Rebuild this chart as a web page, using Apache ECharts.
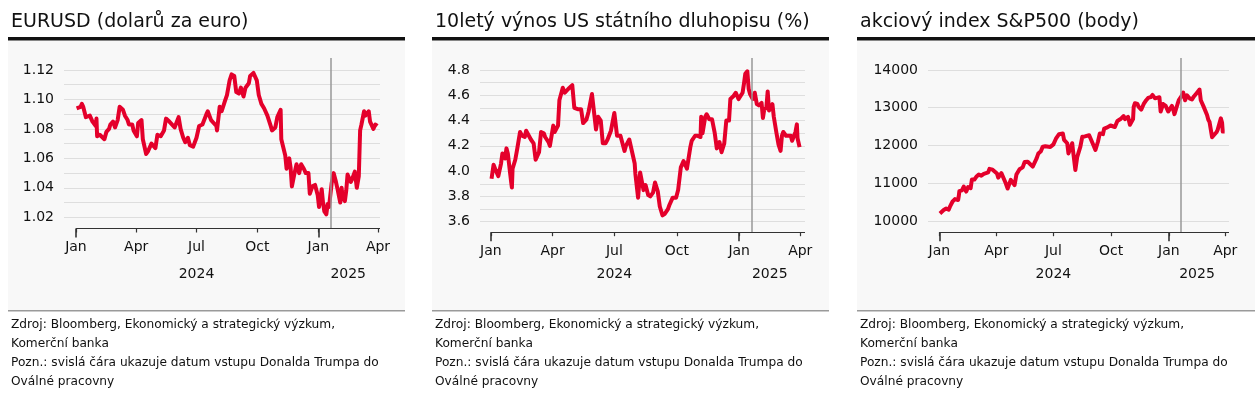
<!DOCTYPE html>
<html><head><meta charset="utf-8">
<script src="https://cdn.jsdelivr.net/npm/echarts@6/dist/echarts.min.js"></script>
<style>html,body{margin:0;padding:0;background:#fff}#c{width:1259px;height:395px}</style>
</head><body><div id="c"></div>
<script>
// ---------- DATA ----------
const dates = [
 '2024-01-02','2024-01-05','2024-01-08','2024-01-10','2024-01-12','2024-01-16','2024-01-18','2024-01-22','2024-01-24','2024-01-26','2024-01-31',
 '2024-02-01','2024-02-02','2024-02-06','2024-02-09','2024-02-13','2024-02-16','2024-02-20','2024-02-22','2024-02-26','2024-02-29',
 '2024-03-04','2024-03-07','2024-03-08','2024-03-12','2024-03-15','2024-03-19','2024-03-21','2024-03-26','2024-03-28',
 '2024-04-02','2024-04-04','2024-04-09','2024-04-11','2024-04-16','2024-04-19','2024-04-24','2024-04-30',
 '2024-05-03','2024-05-08','2024-05-13','2024-05-16','2024-05-21','2024-05-24','2024-05-29',
 '2024-06-04','2024-06-07','2024-06-11','2024-06-14','2024-06-18','2024-06-21','2024-06-26',
 '2024-07-01','2024-07-05','2024-07-10','2024-07-16','2024-07-18','2024-07-23','2024-07-25','2024-07-31',
 '2024-08-01','2024-08-05','2024-08-08','2024-08-13','2024-08-16','2024-08-20','2024-08-23','2024-08-27','2024-08-30',
 '2024-09-03','2024-09-06','2024-09-10','2024-09-13','2024-09-18','2024-09-20','2024-09-25','2024-09-30',
 '2024-10-03','2024-10-07','2024-10-11','2024-10-16','2024-10-21','2024-10-23','2024-10-28','2024-10-31',
 '2024-11-05','2024-11-06','2024-11-08','2024-11-12','2024-11-14','2024-11-18','2024-11-20','2024-11-22','2024-11-26','2024-11-29',
 '2024-12-03','2024-12-06','2024-12-10','2024-12-13','2024-12-17','2024-12-19','2024-12-23','2024-12-27','2024-12-31',
 '2025-01-02','2025-01-06','2025-01-08','2025-01-10','2025-01-13','2025-01-15','2025-01-17','2025-01-21','2025-01-24','2025-01-27','2025-01-30',
 '2025-02-03','2025-02-05','2025-02-07','2025-02-10','2025-02-12','2025-02-14','2025-02-19','2025-02-21','2025-02-25','2025-02-28',
 '2025-03-03','2025-03-05','2025-03-07','2025-03-11','2025-03-13','2025-03-18','2025-03-20','2025-03-25','2025-03-27','2025-03-28','2025-03-31'
];
const eurusd = [
 1.094,1.094,1.095,1.097,1.095,1.088,1.088,1.089,1.088,1.085,1.082,
 1.087,1.075,1.076,1.077,1.073,1.078,1.080,1.083,1.085,1.081,
 1.086,1.095,1.094,1.093,1.089,1.086,1.083,1.083,1.079,
 1.075,1.084,1.086,1.073,1.063,1.065,1.070,1.067,
 1.076,1.075,1.079,1.087,1.085,1.085,1.081,
 1.088,1.080,1.074,1.071,1.074,1.069,1.068,
 1.074,1.082,1.083,1.090,1.092,1.086,1.085,1.082,
 1.079,1.095,1.092,1.099,1.103,1.113,1.117,1.116,1.105,
 1.104,1.108,1.102,1.108,1.111,1.116,1.118,1.113,
 1.103,1.097,1.094,1.089,1.082,1.079,1.081,1.088,
 1.093,1.073,1.072,1.062,1.053,1.060,1.054,1.041,1.050,1.056,
 1.050,1.056,1.053,1.050,1.050,1.036,1.041,1.042,1.035,
 1.027,1.039,1.030,1.024,1.022,1.029,1.027,1.043,1.050,1.045,1.039,
 1.030,1.040,1.033,1.031,1.038,1.049,1.044,1.046,1.051,1.040,
 1.048,1.079,1.083,1.092,1.089,1.092,1.085,1.080,1.080,1.083,1.082
];
const ust10y = [
 3.94,4.05,4.01,4.02,3.96,4.06,4.14,4.10,4.18,4.14,3.91,
 3.87,4.02,4.09,4.18,4.31,4.28,4.27,4.32,4.28,4.25,
 4.22,4.09,4.08,4.15,4.31,4.30,4.27,4.23,4.20,
 4.36,4.31,4.36,4.56,4.66,4.62,4.65,4.68,
 4.50,4.49,4.49,4.38,4.41,4.47,4.61,
 4.33,4.43,4.40,4.22,4.22,4.25,4.32,
 4.46,4.28,4.28,4.16,4.20,4.25,4.24,4.06,
 3.98,3.79,3.99,3.85,3.89,3.81,3.80,3.83,3.91,
 3.84,3.72,3.65,3.66,3.70,3.73,3.79,3.79,
 3.85,4.03,4.08,4.02,4.19,4.24,4.28,4.28,
 4.27,4.43,4.30,4.43,4.45,4.41,4.41,4.41,4.30,4.18,
 4.23,4.15,4.22,4.40,4.40,4.57,4.59,4.62,4.57,
 4.57,4.62,4.69,4.77,4.79,4.65,4.61,4.57,4.62,4.53,4.52,
 4.54,4.42,4.49,4.50,4.63,4.48,4.53,4.43,4.30,4.21,
 4.16,4.28,4.31,4.28,4.27,4.28,4.24,4.31,4.37,4.26,4.19
];
const spx = [
 10200,10160,10290,10320,10330,10300,10380,10510,10560,10580,10555,
 10650,10790,10810,10910,10780,10900,10870,11100,11100,11170,
 11230,11250,11200,11250,11200,11290,11380,11360,11400,
 11260,11150,11270,11290,11000,10860,11090,10950,
 11230,11370,11420,11560,11570,11550,11440,
 11650,11790,11850,11970,11980,11950,11960,
 12030,12180,12300,12320,12150,12060,11790,12060,
 11900,11350,11700,11970,12230,12240,12280,12270,12290,
 12000,11880,12100,12320,12300,12450,12480,12530,
 12480,12490,12650,12700,12780,12700,12760,12550,
 12700,13020,13120,13100,13020,12950,12960,13100,13200,13260,
 13280,13340,13250,13300,13280,12900,13100,13050,12900,
 12900,13050,12960,12830,12850,13100,13200,13300,13400,13200,13330,
 13250,13300,13220,13300,13300,13380,13480,13200,13050,13030,
 12810,12680,12620,12220,12180,12350,12420,12720,12600,12370,12370
];
const titles = ['EURUSD (dolarů za euro)', '10letý výnos US státního dluhopisu (%)', 'akciový index S&P500 (body)'];
const footerLines = ['Zdroj: Bloomberg, Ekonomický a strategický výzkum,', 'Komerční banka', 'Pozn.: svislá čára ukazuje datum vstupu Donalda Trumpa do', 'Oválné pracovny'];
const monthTicks = ['2024-01-01','2024-04-01','2024-07-01','2024-10-01','2025-01-01','2025-04-01'];
const monthNames = ['Jan','Feb','Mar','Apr','May','Jun','Jul','Aug','Sep','Oct','Nov','Dec'];
const yearTicks = ['2024-01-01','2025-01-01'];
const yearLabelPos = ['2024-07-01','2025-02-15'];
const inaugurationDate = '2025-01-20';
const eurLabels = [1.02,1.04,1.06,1.08,1.10,1.12];
const eurGrid = [1.02,1.03,1.04,1.05,1.06,1.07,1.08,1.09,1.10,1.11,1.12];
const ustLabels = [3.6,3.8,4.0,4.2,4.4,4.6,4.8];
const ustGrid = [3.6,3.7,3.8,3.9,4.0,4.1,4.2,4.3,4.4,4.5,4.6,4.7,4.8];
const spxLabels = [10000,11000,12000,13000,14000];

// ---------- CHART ----------
const P = s => +new Date(s + 'T00:00:00');
const FONT = '"DejaVu Sans"';
const RED = '#e4002b';
const TXT = '#111';

const panels = [
  {values: eurusd, labels: eurLabels, gridVals: eurGrid, dec: 2, px: 8, pw: 397, tx: 11,
   gl: 64, gw: 316, gh: 170.5, xmin: '2023-12-14', xmax: '2025-04-04', ymin: 1.0124, ymax: 1.12815, ym: 39},
  {values: ust10y, labels: ustLabels, gridVals: ustGrid, dec: 1, px: 432, pw: 397, tx: 435,
   gl: 480, gw: 325, gh: 174.2, xmin: '2023-12-16', xmax: '2025-04-08', ymin: 3.517, ymax: 4.895, ym: 35},
  {values: spx, labels: spxLabels, gridVals: spxLabels, dec: 0, px: 857, pw: 398, tx: 860,
   gl: 928, gw: 301, gh: 174.2, xmin: '2023-12-14', xmax: '2025-04-07', ymin: 9703, ymax: 14318, ym: 35}
];

const option = {animation: false, title: [], grid: [], xAxis: [], yAxis: [], series: [], graphic: []};
const labelStyle = {fontFamily: FONT, fontSize: 14, color: TXT};

panels.forEach((p, i) => {
  option.title.push({text: titles[i], left: p.tx, top: 10, padding: 0,
    textStyle: {fontFamily: FONT, fontSize: 19, fontWeight: 'normal', color: TXT, lineHeight: 24}});
  option.grid.push({left: p.gl, top: 58, width: p.gw, height: p.gh, containLabel: false});
  const xmin = P(p.xmin), xmax = P(p.xmax);
  option.xAxis.push({
    type: 'value', gridIndex: i, position: 'bottom', min: xmin, max: xmax, scale: true,
    axisLine: {show: false}, splitLine: {show: false},
    axisTick: {show: true, customValues: monthTicks.map(P), length: 4, lineStyle: {color: '#333', width: 1.2}},
    axisLabel: Object.assign({customValues: monthTicks.map(P), margin: 12,
      formatter: v => monthNames[new Date(v).getMonth()]}, labelStyle)
  });
  option.xAxis.push({
    type: 'value', gridIndex: i, position: 'bottom', min: xmin, max: xmax, scale: true,
    axisLine: {show: false}, splitLine: {show: false},
    axisTick: {show: true, customValues: yearTicks.map(P), length: 9, lineStyle: {color: '#333', width: 1.6}},
    axisLabel: Object.assign({customValues: yearLabelPos.map(P), margin: p.ym,
      formatter: v => String(new Date(v).getFullYear())}, labelStyle)
  });
  option.yAxis.push({
    type: 'value', gridIndex: i, min: p.ymin, max: p.ymax,
    axisLine: {show: false},
    axisTick: {show: false, customValues: p.gridVals},
    splitLine: {show: true, lineStyle: {color: '#dedede', width: 1}},
    axisLabel: Object.assign({customValues: p.labels, margin: 10,
      formatter: v => Number(v).toFixed(p.dec)}, labelStyle)
  });
  option.series.push({
    type: 'line', xAxisIndex: 2 * i, yAxisIndex: i,
    data: dates.map((d, k) => [P(d), p.values[k]]),
    showSymbol: false, symbol: 'none', z: 3,
    lineStyle: {color: RED, width: 4, join: 'round'}, itemStyle: {color: RED},
    markLine: {
      symbol: 'none', silent: true, animation: false, label: {show: false},
      data: [
        {xAxis: P(inaugurationDate), lineStyle: {color: '#999', width: 1.5, type: 'solid'}},
        [{coord: [P(yearTicks[0]), p.ymin], lineStyle: {color: '#333', width: 1.2, type: 'solid'}},
         {coord: [xmax, p.ymin]}]
      ]
    }
  });
  option.graphic.push(
    {type: 'rect', z: -10, silent: true, shape: {x: p.px, y: 41, width: p.pw, height: 269}, style: {fill: '#f8f8f8'}},
    {type: 'rect', z: 10, silent: true, shape: {x: p.px, y: 37, width: p.pw, height: 3.5}, style: {fill: '#111'}},
    {type: 'rect', z: 10, silent: true, shape: {x: p.px, y: 310, width: p.pw, height: 1.5}, style: {fill: '#9a9a9a'}},
    {type: 'text', z: 10, silent: true, x: p.tx, y: 315.5,
     style: {text: footerLines.join('\n'), font: '12.2px ' + FONT, fill: TXT, lineHeight: 19,
             align: 'left', verticalAlign: 'top'}}
  );
});

const chart = echarts.init(document.getElementById('c'), null, {renderer: 'canvas', width: 1259, height: 395});
chart.setOption(option);
</script>
</body></html>
